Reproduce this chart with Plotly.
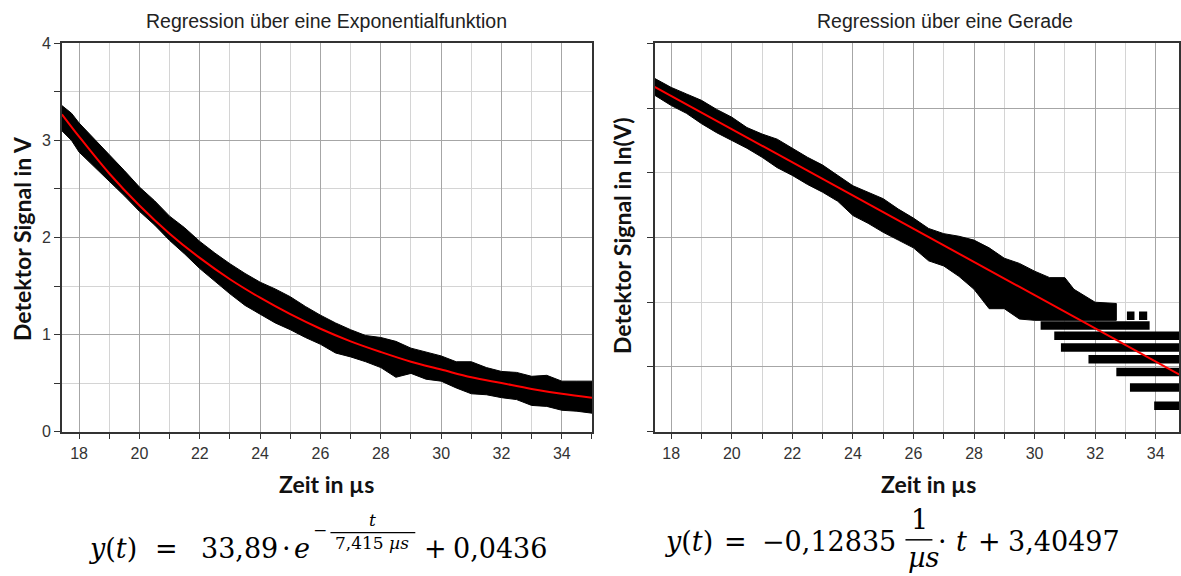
import plotly.graph_objects as go

# ---------------- data ----------------
# left panel: measured signal band (upper / lower edge, V)
t_band = [17.43, 17.75, 18.0, 18.5, 19.0, 19.5, 20.0, 20.5, 21.0, 21.5, 22.0, 22.5,
          23.0, 23.5, 24.0, 24.5, 25.0, 25.5, 26.0, 26.5, 27.0, 27.5, 28.0, 28.5,
          29.0, 29.5, 30.0, 30.5, 31.0, 31.5, 32.0, 32.5, 33.0, 33.5, 34.0, 34.5, 35.0]
v_upper = [3.36, 3.28, 3.18, 3.02, 2.85, 2.69, 2.52, 2.38, 2.22, 2.10, 1.96, 1.84,
           1.73, 1.63, 1.54, 1.47, 1.39, 1.29, 1.20, 1.12, 1.05, 0.99, 0.97, 0.93,
           0.86, 0.82, 0.78, 0.72, 0.72, 0.66, 0.62, 0.61, 0.57, 0.58, 0.52, 0.52, 0.52]
v_lower = [3.10, 3.00, 2.88, 2.73, 2.58, 2.43, 2.27, 2.13, 1.97, 1.83, 1.68, 1.55,
           1.42, 1.30, 1.21, 1.12, 1.05, 0.97, 0.90, 0.81, 0.77, 0.72, 0.66, 0.56,
           0.60, 0.54, 0.52, 0.45, 0.39, 0.38, 0.35, 0.33, 0.27, 0.26, 0.22, 0.21, 0.19]

# left panel: fitted exponential (red)
t_fit = [17.43, 18, 19, 20, 21, 22, 23, 24, 25, 26, 27, 28, 29, 30, 31, 32, 33, 34, 35]
v_fit = [3.27, 3.04, 2.66, 2.33, 2.04, 1.79, 1.57, 1.38, 1.21, 1.06, 0.93, 0.82,
         0.72, 0.64, 0.56, 0.50, 0.44, 0.39, 0.35]

# right panel: ln(signal) band (upper / lower edge)
t_ln = [17.45, 18.0, 18.5, 19.0, 19.5, 20.0, 20.5, 21.0, 21.5, 22.0, 22.5, 23.0,
        23.5, 24.0, 24.5, 25.0, 25.5, 26.0, 26.5, 27.0, 27.5, 28.0, 28.5, 29.0,
        29.5, 30.0, 30.5, 31.0, 31.3, 31.5, 32.0, 32.7]
ln_upper = [1.23, 1.16, 1.11, 1.06, 0.99, 0.93, 0.85, 0.80, 0.76, 0.69, 0.62, 0.56,
            0.48, 0.40, 0.35, 0.30, 0.22, 0.15, 0.07, 0.03, 0.01, -0.02, -0.08, -0.16,
            -0.20, -0.26, -0.31, -0.31, -0.40, -0.43, -0.50, -0.51]
ln_lower = [1.10, 1.02, 0.96, 0.88, 0.81, 0.75, 0.69, 0.62, 0.54, 0.48, 0.41, 0.35,
            0.28, 0.17, 0.11, 0.04, -0.02, -0.08, -0.18, -0.22, -0.30, -0.40, -0.55, -0.55,
            -0.63, -0.64, -0.64, -0.64, -0.64, -0.64, -0.64, -0.64]

# right panel: separated quantisation levels in the tail (ln V, start, end)
lvl_ln = [-0.605, -0.605, -0.68, -0.76, -0.85, -0.94, -1.04, -1.16, -1.30]
lvl_t0 = [33.05, 33.45, 30.20, 30.65, 30.87, 31.78, 32.70, 33.15, 33.95]
lvl_t1 = [33.30, 33.72, 33.80, 35.00, 35.00, 35.00, 35.00, 35.00, 35.00]

# right panel: fitted straight line (red)
t_lin = [17.45, 35.0]
ln_fit = [1.165, -1.087]

# ---------------- figure ----------------
W, H = 1181, 576


def px(x):
    return x / W


def py(y):
    return 1 - y / H


fig = go.Figure()

fig.add_trace(go.Scatter(
    x=t_band + t_band[::-1], y=v_upper + v_lower[::-1],
    fill="toself", fillcolor="black", mode="lines",
    line=dict(color="black", width=1), xaxis="x", yaxis="y", hoverinfo="skip"))
fig.add_trace(go.Scatter(
    x=t_fit, y=v_fit, mode="lines", line=dict(color="#ff0000", width=2, shape="spline"),
    xaxis="x", yaxis="y"))

fig.add_trace(go.Scatter(
    x=t_ln + t_ln[::-1], y=ln_upper + ln_lower[::-1],
    fill="toself", fillcolor="black", mode="lines",
    line=dict(color="black", width=1), xaxis="x2", yaxis="y2", hoverinfo="skip"))
for lv, a, b in zip(lvl_ln, lvl_t0, lvl_t1):
    fig.add_trace(go.Scatter(
        x=[a, b], y=[lv, lv], mode="lines", line=dict(color="black", width=8.5),
        xaxis="x2", yaxis="y2", hoverinfo="skip"))
fig.add_trace(go.Scatter(
    x=t_lin, y=ln_fit, mode="lines", line=dict(color="#ff0000", width=2),
    xaxis="x2", yaxis="y2"))

tickfont = dict(family="Liberation Sans, Arial", size=16, color="#333333")
axis_common = dict(
    showline=True, linecolor="#333333", linewidth=1.5, mirror=True,
    ticks="outside", ticklen=6, tickcolor="#333333", tickwidth=1,
    gridcolor="#a6a6a6", gridwidth=1.2, zeroline=False, tickfont=tickfont,
)
minor_common = dict(showgrid=True, gridcolor="#d4d4d4", ticks="outside", ticklen=6,
                    tickcolor="#333333")
ydom = [py(436.5), py(36.5)]

fig.update_layout(
    width=W, height=H, showlegend=False,
    margin=dict(l=0, r=0, t=0, b=0),
    paper_bgcolor="white", plot_bgcolor="white",
    xaxis=dict(domain=[px(62), px(593)], range=[17.43, 35], dtick=2, tick0=18,
               minor=dict(dtick=1, tick0=17, **minor_common),
               anchor="y", **axis_common),
    yaxis=dict(domain=ydom, range=[0, 4], dtick=1,
               minor=dict(dtick=0.5, **minor_common),
               anchor="x", **axis_common),
    xaxis2=dict(domain=[px(656), 1.0], range=[17.46, 34.77], dtick=2, tick0=18,
                minor=dict(dtick=1, tick0=17, **minor_common),
                anchor="y2", **axis_common),
    yaxis2=dict(domain=ydom, range=[-1.5, 1.5], dtick=1, tick0=0, showticklabels=False,
                minor=dict(dtick=0.5, **minor_common),
                anchor="x2", **axis_common),
)

ann = []
title_font = dict(family="Liberation Sans, Arial", size=19.5, color="#222222")
lab_font = dict(family="Lato, Open Sans", size=23, color="#111111")
ann.append(dict(x=px(327), y=py(13), text="Regression über eine Exponentialfunktion",
                font=title_font))
ann.append(dict(x=px(947), y=py(13), text="Regression über eine Gerade", font=title_font))
ann.append(dict(x=px(327), y=py(490), text="<b>Zeit in µs</b>", font=lab_font))
ann.append(dict(x=px(930), y=py(490), text="<b>Zeit in µs</b>", font=lab_font))
ann.append(dict(x=px(22), y=py(237), text="<b>Detektor Signal in V</b>", font=lab_font,
                textangle=-90))
ann.append(dict(x=px(623), y=py(234), text="<b>Detektor Signal in ln(V)</b>", font=lab_font,
                textangle=-90))

mf = "DejaVu Serif, Liberation Serif"
big = dict(family=mf, size=27, color="black")
small = dict(family=mf, size=17, color="black")
LY = 557   # left formula baseline row
RY = 550   # right formula row
# formula tokens: (text, centre x, centre y, font)
tokens = [
    ("<i>y</i>(<i>t</i>)", 113, LY, big), ("=", 167, LY, big), ("33,89", 240, LY, big),
    ("·", 287, LY, big), ("<i>e</i>", 303, LY, big), ("−", 321, 538, small),
    ("<i>t</i>", 373, 528, small), ("7,415 <i>µs</i>", 373, 551, small),
    ("+", 436, LY, big), ("0,0436", 501, LY, big),
    ("<i>y</i>(<i>t</i>)", 690, RY, big), ("=", 737, RY, big), ("−0,12835", 830, RY, big),
    ("1", 921, 527, big), ("<i>µs</i>", 925, 566, big), ("·", 944, RY, big),
    ("<i>t</i>", 963, RY, big), ("+", 991, RY, big), ("3,40497", 1066, RY, big),
]
for txt, x, y, f in tokens:
    ann.append(dict(x=px(x), y=py(y), text=txt, font=f))

for a in ann:
    a.setdefault("xref", "paper")
    a.setdefault("yref", "paper")
    a.setdefault("showarrow", False)
    a.setdefault("xanchor", "center")
    a.setdefault("yanchor", "middle")
fig.update_layout(annotations=ann)

fig.update_layout(shapes=[
    dict(type="line", xref="paper", yref="paper", x0=px(331), x1=px(416), y0=py(540.5),
         y1=py(540.5), line=dict(color="black", width=1.3)),
    dict(type="line", xref="paper", yref="paper", x0=px(907), x1=px(934), y0=py(548),
         y1=py(548), line=dict(color="black", width=1.5)),
])

fig.write_html("out.html", config={"displayModeBar": False},
               post_script="document.body.style.margin='0';")
